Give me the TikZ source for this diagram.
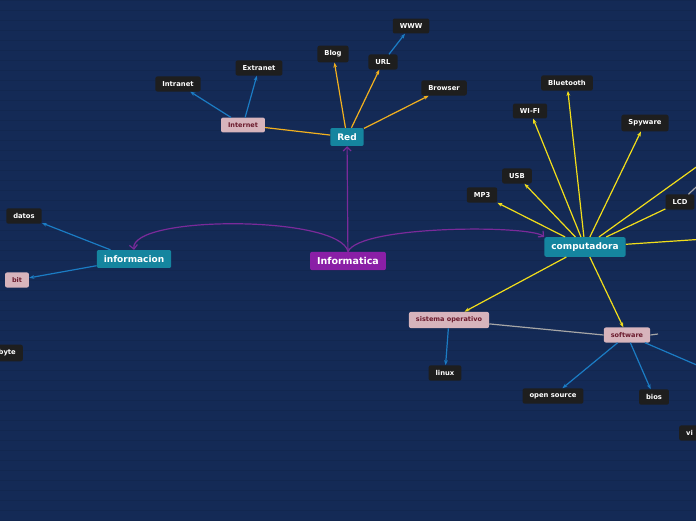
\documentclass[tikz,border=0pt]{standalone}
\usepackage{fontspec}
\setmainfont{DejaVu Sans}
\usetikzlibrary{arrows.meta}
\definecolor{bg}{HTML}{142A56}
\definecolor{leaf}{HTML}{1E1E1E}
\definecolor{teal}{HTML}{15859F}
\definecolor{pinkb}{HTML}{D7B4BC}
\definecolor{pinkt}{HTML}{6A1A2C}
\definecolor{purp}{HTML}{8A1FA6}
\definecolor{lpurp}{HTML}{7A2A9A}
\definecolor{yel}{HTML}{F2DE1A}
\definecolor{org}{HTML}{F2B01E}
\definecolor{blu}{HTML}{1B7CC4}
\begin{document}
\begin{tikzpicture}[x=1pt,y=-1pt,
 leafn/.style={draw=none,fill=leaf,rounded corners=2pt,text=white,font=\bfseries\fontsize{6.8}{8}\selectfont,inner xsep=7pt,inner ysep=5pt},
 mainn/.style={draw=none,fill=teal,rounded corners=2pt,text=white,font=\bfseries\fontsize{9}{11}\selectfont,inner xsep=7pt,inner ysep=5.5pt},
 pinkn/.style={draw=none,fill=pinkb,rounded corners=2pt,text=pinkt,font=\bfseries\fontsize{6.5}{8}\selectfont,inner xsep=7pt,inner ysep=5pt},
 rootn/.style={draw=none,fill=purp,rounded corners=2pt,text=white,font=\bfseries\fontsize{9.5}{11}\selectfont,inner xsep=7pt,inner ysep=5.5pt},
 ya/.style={draw=yel,line width=1.2pt,-{Stealth[length=5pt]}},
 oa/.style={draw=org,line width=1.2pt,-{Stealth[length=5pt]}},
 ba/.style={draw=blu,line width=1.2pt,-{Stealth[length=5pt]}},
 pa/.style={draw=lpurp,line width=1.2pt,-{Straight Barb[length=4pt]}},
 ga/.style={draw=gray!70,line width=1.2pt}]
\useasboundingbox (0,0) rectangle (696,520);
\fill[bg] (0,0) rectangle (696,520);
\foreach \r in {0,...,52}{\draw[bg!92!black,line width=0.3pt] (0,\r*10) -- (696,\r*10);}
% nodes
\node[leafn] (www) at (411,26) {WWW};
\node[leafn] (blog) at (333,54) {Blog};
\node[leafn] (url) at (383,62) {URL};
\node[leafn] (extranet) at (259,68) {Extranet};
\node[leafn] (intranet) at (178,84) {Intranet};
\node[leafn] (browser) at (444,88) {Browser};
\node[pinkn] (internet) at (243,125) {Internet};
\node[mainn] (red) at (347,137) {Red};
\node[rootn] (info) at (348,261) {Informatica};
\node[mainn] (infor) at (134,259) {informacion};
\node[leafn] (datos) at (24,216) {datos};
\node[pinkn] (bit) at (17,280) {bit};
\node[leafn,anchor=east] (byte) at (23,353) {byte};
\node[mainn] (comp) at (585,247) {computadora};
\node[leafn] (bt) at (567,83) {Bluetooth};
\node[leafn] (wifi) at (530,111) {WI-FI};
\node[leafn] (spy) at (645,123) {Spyware};
\node[leafn] (usb) at (517,176) {USB};
\node[leafn] (mp3) at (482,195) {MP3};
\node[leafn] (lcd) at (680,202) {LCD};
\node[leafn,minimum width=30pt,minimum height=18pt] (cut1) at (711,122) {};
\node[leafn,minimum width=30pt,minimum height=18pt] (cut2) at (711,292) {};
\node[pinkn] (so) at (449,320) {sistema operativo};
\node[leafn] (linux) at (445,373) {linux};
\node[pinkn] (soft) at (627,335) {software};
\node[leafn] (os) at (553,396) {open source};
\node[leafn] (bios) at (654,397) {bios};
\node[leafn,anchor=west] (vi) at (679,433) {vi};
\coordinate (e1) at (720,238);
\coordinate (e2) at (720,375);
\coordinate (e3) at (720,150);
\coordinate (e4) at (658,334);
\coordinate (e5) at (720,165);
% connectors
\draw[ba] (internet) -- (intranet);
\draw[ba] (internet) -- (extranet);
\draw[draw=org,line width=1.2pt] (internet) -- (red);
\draw[oa] (red) -- (blog);
\draw[oa] (red) -- (url);
\draw[oa] (red) -- (browser);
\draw[ba] (url) -- (www);
\draw[pa] (info) -- (red);
\draw[pa] (info.north) .. controls (340,215) and (130,215) .. (infor.north);
\draw[pa] (info.north) .. controls (360,225) and (530,225) .. (comp.north west);
\draw[ba] (infor) -- (datos);
\draw[ba] (infor) -- (bit);
\draw[ya] (comp) -- (bt);
\draw[ya] (comp) -- (wifi);
\draw[ya] (comp) -- (spy);
\draw[ya] (comp) -- (usb);
\draw[ya] (comp) -- (mp3);
\draw[draw=yel,line width=1.2pt] (comp) -- (lcd);
\draw[draw=yel,line width=1.2pt] (comp) -- (e3);
\draw[draw=yel,line width=1.2pt] (comp) -- (e1);
\draw[ya] (comp) -- (so);
\draw[ya] (comp) -- (soft);
\draw[ga] (lcd) -- (e5);
\draw[ga] (so) -- (soft.west);
\draw[ga] (soft.east) -- (e4);
\draw[ba] (so) -- (linux);
\draw[ba] (soft) -- (os);
\draw[ba] (soft) -- (bios);
\draw[draw=blu,line width=1.2pt] (soft) -- (e2);
\end{tikzpicture}
\end{document}
